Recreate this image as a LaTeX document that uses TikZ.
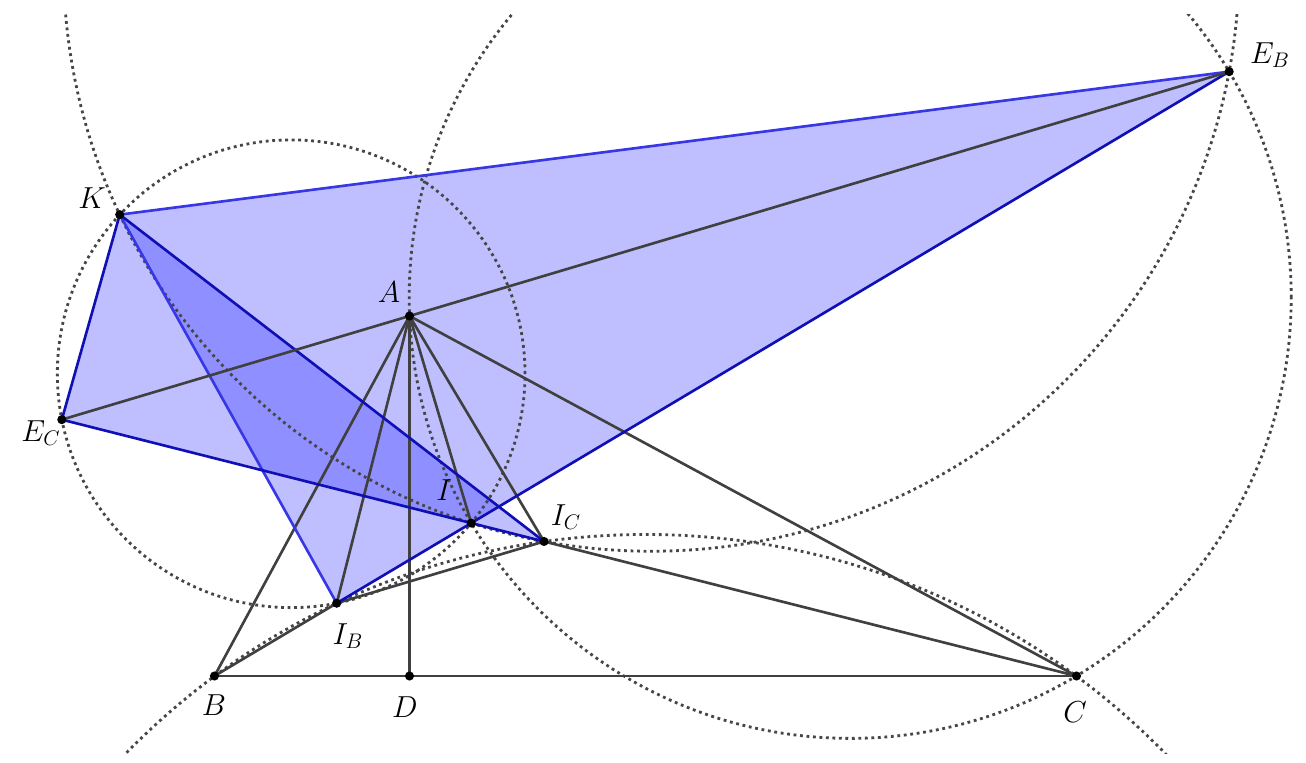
\documentclass[tikz,border=0pt]{standalone}
\definecolor{edgedark}{RGB}{15,15,180}
\definecolor{edgelight}{RGB}{55,55,230}
\definecolor{segcol}{RGB}{64,64,64}
\definecolor{dotcol}{RGB}{70,70,70}
\begin{document}
\begin{tikzpicture}[x=0.02cm,y=-0.02cm,
  seg/.style={draw=segcol,line width=1.5pt},
  bdark/.style={draw=edgedark,line width=1.5pt},
  blight/.style={draw=edgelight,line width=1.5pt},
  tri/.style={fill=blue,fill opacity=0.25},
  dotc/.style={draw=dotcol,line width=1.6pt,dash pattern=on 1.6pt off 2.1pt},
  pt/.style={fill=black},
  lab/.style={font=\fontsize{17}{19}\selectfont,inner sep=0pt}]
\useasboundingbox (0,0) rectangle (1306,763);
% points
\coordinate (A) at (409.5,316);
\coordinate (B) at (214.5,676);
\coordinate (C) at (1076.5,676);
\coordinate (D) at (409.5,676);
\coordinate (I) at (471.24,523.09);
\coordinate (IB) at (336.71,603.21);
\coordinate (IC) at (544.03,541.47);
\coordinate (EB) at (1229.18,71.64);
\coordinate (EC) at (61.81,419.65);
\coordinate (K) at (119.73,214.64);
% circle centres
\coordinate (Oa) at (291.19,373.76);
\coordinate (Oe) at (651.29,-36.61);
\coordinate (Ob) at (850.21,297.37);
\coordinate (Oc) at (645.5,1260.64);
% fills
\fill[tri] (K) -- (EB) -- (IB) -- cycle;
\fill[tri] (K) -- (EC) -- (IC) -- cycle;
% dotted circles
\begin{scope}
\clip (0,15) rectangle (1306,753);
\draw[dotc] (Oa) circle[radius=4.678cm];
\draw[dotc] (Oe) circle[radius=11.759cm];
\draw[dotc] (Ob) circle[radius=8.822cm];
\draw[dotc] (Oc) circle[radius=14.526cm];
\end{scope}
% grey segments
\draw[seg] (A) -- (B);
\draw[seg] (A) -- (C);
\draw[seg] (B) -- (C);
\draw[seg] (A) -- (D);
\draw[seg] (A) -- (IB);
\draw[seg] (A) -- (I);
\draw[seg] (A) -- (IC);
\draw[seg] (B) -- (IB);
\draw[seg] (IB) -- (IC);
\draw[seg] (IC) -- (C);
% blue edges
\draw[blight] (K) -- (EB);
\draw[blight] (K) -- (IB);
\draw[bdark] (EB) -- (IB);
\draw[bdark] (EC) -- (IC);
\draw[bdark] (K) -- (IC);
\draw[bdark] (K) -- (EC);
\draw[seg] (EC) -- (EB);
% dots
\foreach \p in {A,B,C,D,I,IB,IC,EB,EC,K} \fill[pt] (\p) circle[radius=2.6pt];
% labels
\node[lab] (lA) at (389,292) {$A$};
\node[lab] (lK) at (92,198) {$K$};
\node[lab] (lEB) at (1270,55) {$E_B$};
\node[lab] (lEC) at (41,433) {$E_C$};
\node[lab] (lI) at (444,490) {$I$};
\node[lab] (lIC) at (566,517) {$I_C$};
\node[lab] (lIB) at (348,636) {$I_B$};
\node[lab] (lB) at (214,705) {$B$};
\node[lab] (lD) at (405,707) {$D$};
\node[lab] (lC) at (1075,712) {$C$};
\end{tikzpicture}
\end{document}
